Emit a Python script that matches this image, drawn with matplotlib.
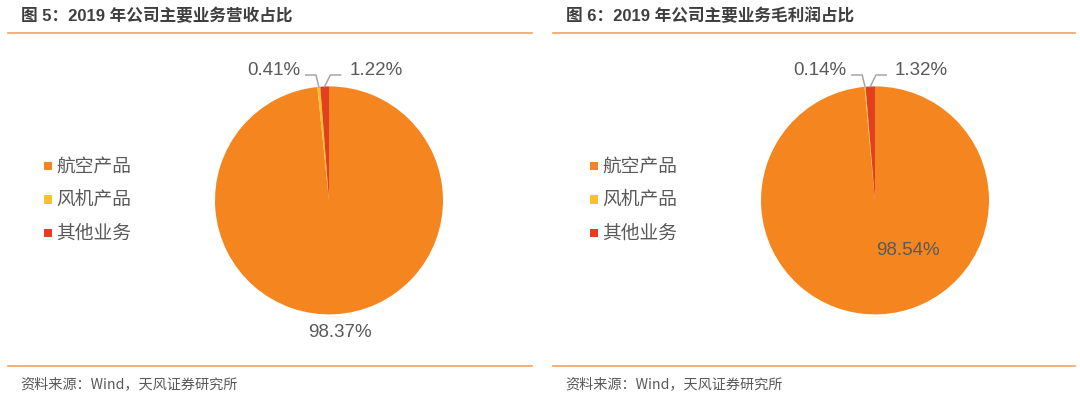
import numpy as np
import matplotlib
matplotlib.use("Agg")
import matplotlib.pyplot as plt
from matplotlib.lines import Line2D
from matplotlib.patches import Rectangle

# ---------------- data ----------------
categories = ["航空产品", "风机产品", "其他业务"]
revenue_share = [98.37, 0.41, 1.22]
profit_share = [98.54, 0.14, 1.32]
titles = ["图 5：2019 年公司主要业务营收占比", "图 6：2019 年公司主要业务毛利润占比"]
source_text = "资料来源：Wind，天风证券研究所"

colors = ["#F5861F", "#FFC12A", "#E0401E"]
line_orange = "#F0A264"
text_gray = "#595959"
title_gray = "#3F3F3F"
leader_gray = "#A6A6A6"

W, H = 1080, 399
fig = plt.figure(figsize=(W / 100, H / 100), dpi=100)

NUM_FONT = ["Liberation Sans", "Noto Sans CJK SC"]
CJK_FONT = ["Noto Sans CJK SC", "DejaVu Sans"]


def fx(x):
    return x / W


def fy(y):
    return 1 - y / H


def hline(x0, x1, y):
    fig.add_artist(Line2D([fx(x0), fx(x1)], [fy(y), fy(y)], color=line_orange,
                          lw=1.2, transform=fig.transFigure))


panels = [
    dict(data=revenue_share, title=titles[0], x0=8, x1=532, cx=329,
         legend_x=43.5, big_pos=(0.10, -1.163)),
    dict(data=profit_share, title=titles[1], x0=553, x1=1075, cx=875,
         legend_x=589.5, big_pos=(0.29, -0.44)),
]

R = 114
CY = 200.4

for p in panels:
    # frame lines, title, source
    hline(p["x0"], p["x1"], 32.7)
    hline(p["x0"], p["x1"], 366.3)
    fig.text(fx(p["x0"] + 13), fy(16), p["title"], fontsize=12, fontweight="bold",
             color=title_gray, family=NUM_FONT, va="center", ha="left")
    fig.text(fx(p["x0"] + 12), fy(384), source_text, fontsize=10.2,
             color=text_gray, family=CJK_FONT, va="center", ha="left")

    # legend
    for i, (cat, col) in enumerate(zip(categories, colors)):
        yc = [166, 199.5, 233][i]
        fig.add_artist(Rectangle((fx(p["legend_x"]), fy(yc + 4.2)), 8.4 / W, 8.4 / H,
                                 facecolor=col, edgecolor="none",
                                 transform=fig.transFigure))
        fig.text(fx(p["legend_x"] + 13), fy(yc), cat, fontsize=13.5, color=text_gray,
                 family=CJK_FONT, va="center", ha="left")

    # pie
    ax = fig.add_axes([fx(p["cx"] - R), fy(CY + R), 2 * R / W, 2 * R / H])
    wedges, _ = ax.pie(p["data"], colors=colors, startangle=90, counterclock=False,
                       radius=1, wedgeprops=dict(linewidth=0))
    ax.set_xlim(-1, 1)
    ax.set_ylim(-1, 1)
    ax.axis("off")

    # big slice label
    bx, by = p["big_pos"]
    ax.text(bx, by, f"{p['data'][0]:.2f}%", fontsize=13.5, color=text_gray,
            family=NUM_FONT, ha="center", va="center", clip_on=False)

    # small slices with leader lines
    for idx, side in [(1, -1), (2, 1)]:
        w = wedges[idx]
        mid = np.deg2rad((w.theta1 + w.theta2) / 2)
        sx, sy = np.cos(mid), np.sin(mid)
        ex = sx + (-0.025 if side < 0 else 0.05)
        ey = 1.10
        hx = ex + side * 0.09
        ax.plot([sx, ex, hx], [sy, ey, ey], color=leader_gray, lw=1.1,
                clip_on=False, solid_joinstyle="miter")
        tx = hx + side * (0.045 if side < 0 else 0.075)
        ax.text(tx, 1.14, f"{p['data'][idx]:.2f}%", fontsize=13.5, color=text_gray,
                family=NUM_FONT, ha="right" if side < 0 else "left", va="center",
                clip_on=False)

fig.savefig("out.png", dpi=100)
